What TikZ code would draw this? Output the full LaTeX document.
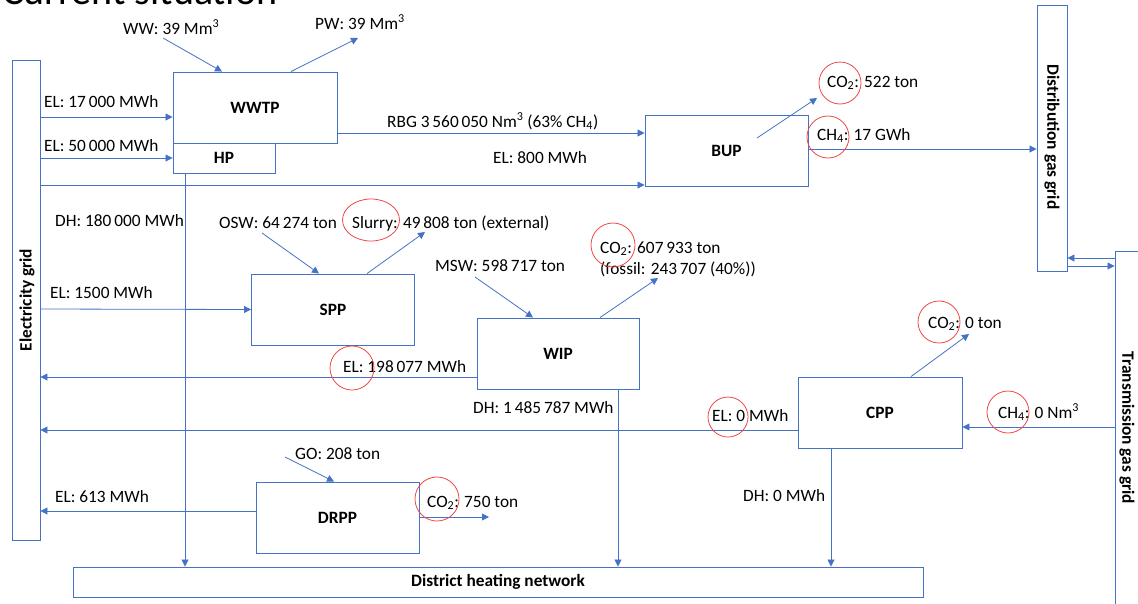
\documentclass[tikz,border=0pt]{standalone}
\usepackage{fontspec}
\setmainfont{Carlito}
\usetikzlibrary{arrows.meta,shapes.geometric}
\definecolor{lineblue}{RGB}{68,114,196}
\definecolor{ringred}{RGB}{240,70,70}
\begin{document}
\begin{tikzpicture}[x=1pt,y=-1pt,
  font=\fontsize{17.3}{20}\selectfont,
  box/.style={draw=lineblue, line width=0.9pt, inner sep=0},
  boldtxt/.style={inner sep=0, font=\fontsize{17.3}{20}\selectfont\bfseries},
  flow/.style={draw=lineblue, line width=0.8pt, -{Triangle[width=7pt,length=7pt]}},
  ring/.style={circle, draw=ringred, line width=0.8pt, inner sep=0},
  ringell/.style={ellipse, draw=ringred, line width=0.8pt, inner sep=0},
  lbl/.style={inner sep=0, anchor=base west}]
\useasboundingbox (0,0) rectangle (1138,603);

% title (clipped by page edge, as in the reference)
\node[lbl, font=\fontsize{40}{44}\selectfont] (title) at (2,4) {Current situation};

% boxes
\node[box, minimum width=28, minimum height=480] (elgrid) at (26,300) {};
\node[boldtxt, rotate=90] (elgridT) at (27,300) {Electricity grid};
\node[box, minimum width=164, minimum height=71] (wwtp) at (255,107.5) {\textbf{WWTP}};
\node[box, minimum width=102, minimum height=30] (hp) at (224,158) {\textbf{HP}};
\node[box, minimum width=163, minimum height=71] (bup) at (726.5,150.5) {\textbf{BUP}};
\node[box, minimum width=30, minimum height=266] (dgg) at (1052,138) {};
\node[boldtxt, rotate=-90] (dggT) at (1052,137) {Distribution gas grid};
\node[box, minimum width=28, minimum height=370] (tgg) at (1129,436) {};
\node[boldtxt, rotate=-90] (tggT) at (1127,428) {Transmission gas grid};
\node[box, minimum width=163, minimum height=71] (spp) at (333,309.5) {\textbf{SPP}};
\node[box, minimum width=162, minimum height=71] (wip) at (558,353.5) {\textbf{WIP}};
\node[box, minimum width=164, minimum height=71] (cpp) at (880,412.5) {\textbf{CPP}};
\node[box, minimum width=163, minimum height=71] (drpp) at (337.5,517.5) {\textbf{DRPP}};
\node[box, minimum width=850, minimum height=30] (dhn) at (498,582) {\textbf{District heating network}};

% free ends
\coordinate (wwin) at (163,38);
\coordinate (pwout) at (358,38);
\coordinate (co2bupS) at (757,138);
\coordinate (co2bupE) at (817,98);
\coordinate (oswin) at (262,233);
\coordinate (slout) at (425,232);
\coordinate (mswin) at (475,277);
\coordinate (co2wip) at (658,278);
\coordinate (co2cpp) at (969,334);
\coordinate (goin) at (285,457);
\coordinate (co2drpp) at (489,517);

% connectors
\draw[flow] (elgrid.east |- 0,117) -- (wwtp.west |- 0,117);
\draw[flow] (elgrid.east |- 0,158) -- (hp.west);
\draw[flow] (elgrid.east |- 0,185) -- (bup.west |- 0,185);
\draw[flow] (wwtp.east |- 0,133) -- (bup.west |- 0,133);
\draw[flow] (bup.east |- 0,149) -- (dgg.west |- 0,149);
\draw[flow] (tgg.west |- 0,258) -- (dgg.east |- 0,258);
\draw[flow] (dgg.east |- 0,266) -- (tgg.west |- 0,266);
\draw[flow] (elgrid.east |- 0,309) -- (spp.west);
\draw[flow] (wip.west |- 0,377) -- (elgrid.east |- 0,377);
\draw[flow] (cpp.west |- 0,430) -- (elgrid.east |- 0,430);
\draw[flow] (tgg.west |- 0,427) -- (cpp.east |- 0,427);
\draw[flow] (drpp.west |- 0,511) -- (elgrid.east |- 0,511);
\draw[flow] (drpp.east |- 0,517) -- (co2drpp);
\draw[flow] (hp.south -| 185,0) -- (dhn.north -| 185,0);
\draw[flow] (wip.south -| 618,0) -- (dhn.north -| 618,0);
\draw[flow] (cpp.south -| 831,0) -- (dhn.north -| 831,0);
\draw[flow] (wwin) -- (wwtp.north -| 222,0);
\draw[flow] (wwtp.north -| 291,0) -- (pwout);
\draw[flow] (co2bupS) -- (co2bupE);
\draw[flow] (oswin) -- (spp.north -| 319,0);
\draw[flow] (spp.north -| 367,0) -- (slout);
\draw[flow] (mswin) -- (wip.north -| 533,0);
\draw[flow] (wip.north -| 600,0) -- (co2wip);
\draw[flow] (cpp.north -| 911,0) -- (co2cpp);
\draw[flow] (goin) -- (drpp.north -| 334,0);

% labels
\node[lbl] (lww) at (123,34) {WW: 39 Mm\textsuperscript{3}};
\node[lbl] (lpw) at (315,29) {PW: 39 Mm\textsuperscript{3}};
\node[lbl] (lel1) at (44,107) {EL: 17\,000 MWh};
\node[lbl] (lel2) at (44,151) {EL: 50\,000 MWh};
\node[lbl] (lrbg) at (387,127) {RBG 3\,560\,050 Nm\textsuperscript{3} (63\% CH\textsubscript{4})};
\node[lbl] (lel3) at (493,163) {EL: 800 MWh};
\node[lbl] (lco2a) at (827,87) {CO\textsubscript{2}: 522 ton};
\node[lbl] (lch4a) at (817,140) {CH\textsubscript{4}: 17 GWh};
\node[lbl] (ldh1) at (55,226) {DH: 180\,000 MWh};
\node[lbl] (losw) at (219,228) {OSW: 64\,274 ton};
\node[lbl] (lsl) at (352,228) {Slurry: 49\,808 ton (external)};
\node[lbl] (lel4) at (50,298) {EL: 1500 MWh};
\node[lbl] (lmsw) at (435,271) {MSW: 598\,717 ton};
\node[lbl] (lco2b) at (600,253) {CO\textsubscript{2}: 607\,933 ton};
\node[lbl] (lfos) at (600,274) {(fossil: 243\,707 (40\%))};
\node[lbl] (lel5) at (343,372) {EL: 198\,077 MWh};
\node[lbl] (ldh2) at (473,413) {DH: 1\,485\,787 MWh};
\node[lbl] (lco2c) at (928,328) {CO\textsubscript{2}: 0 ton};
\node[lbl] (lel6) at (712,421) {EL: 0 MWh};
\node[lbl] (lch4b) at (998,418) {CH\textsubscript{4}: 0 Nm\textsuperscript{3}};
\node[lbl] (ldh3) at (743,501) {DH: 0 MWh};
\node[lbl] (lgo) at (295,459) {GO: 208 ton};
\node[lbl] (lel7) at (55,502) {EL: 613 MWh};
\node[lbl] (lco2d) at (427,507) {CO\textsubscript{2}: 750 ton};

% red rings
\node[ring, minimum size=42] (r1) at (840,83) {};
\node[ring, minimum size=42] (r2) at (828,137) {};
\node[ringell, minimum width=57, minimum height=42] (r3) at (371,220) {};
\node[ring, minimum size=44] (r4) at (613,245) {};
\node[ring, minimum size=44] (r5) at (352,368) {};
\node[ring, minimum size=42] (r6) at (939,322) {};
\node[ring, minimum size=40] (r7) at (728,417) {};
\node[ring, minimum size=42] (r8) at (1008,412) {};
\node[ring, minimum size=44] (r9) at (437,499) {};
\end{tikzpicture}
\end{document}
